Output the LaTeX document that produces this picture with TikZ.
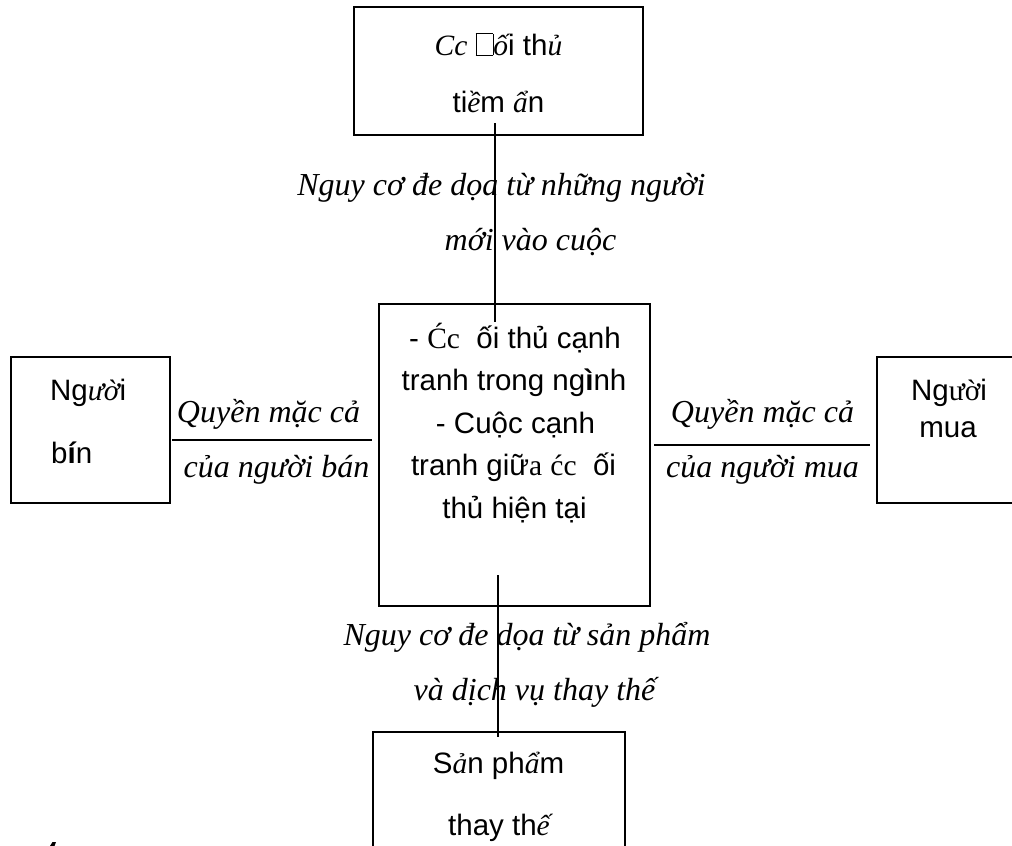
\documentclass[tikz,border=0pt]{standalone}
\usepackage{fontspec}
\setmainfont{Liberation Sans}
\newfontfamily\tmsfont{Liberation Serif}
\newcommand\srfi[1]{{\tmsfont\itshape #1}}
\newcommand\srfr[1]{{\tmsfont #1}}
% empty glyph box
\newcommand\nobox{{\fboxsep0pt\fboxrule0.9pt\fbox{\rule{0pt}{21pt}\hspace{16pt}}}}
\begin{document}
\begin{tikzpicture}[x=1pt,y=-1pt,
  box/.style={draw, line width=1.8pt, rectangle, inner sep=0pt},
  link/.style={line width=1.8pt},
  sans/.style={inner sep=0pt, anchor=base, font=\fontsize{29.5}{36}\selectfont},
  lbl/.style={inner sep=0pt, anchor=base, font=\fontsize{32}{38}\selectfont\tmsfont\itshape}]
\useasboundingbox (0,0) rectangle (1012,846);

% boxes
\node[box, minimum width=289, minimum height=128] (top) at (498.5,71) {};
\node[box, minimum width=271, minimum height=302] (mid) at (514.5,455) {};
\node[box, minimum width=159, minimum height=146] (seller) at (90.5,430) {};
\node[box, minimum width=153, minimum height=146] (buyer) at (953.5,430) {};
\node[box, minimum width=252, minimum height=138] (subst) at (499,801) {};

% box texts
\node[sans] (top1) at (498.5,55) {\srfi{Cc} \nobox\srfi{ố}i th\srfi{ủ}};
\node[sans] (top2) at (498.5,112) {ti\srfi{ề}m \srfi{ẩ}n};

\node[sans] (mid1) at (515,348) {- \srfr{Ćc}\ \ ối thủ cạnh};
\node[sans] (mid2) at (514,390) {tranh trong ng{\bfseries ì}nh};
\node[sans] (mid3) at (515.5,433) {- Cuộc cạnh};
\node[sans] (mid4) at (513.5,475) {tranh giữ\srfr{a} \srfr{ćc}\ \ ối};
\node[sans] (mid5) at (514.5,518) {thủ hiện tại};

\node[sans, anchor=base west] (sel1) at (50,400) {Ng\srfi{ườ}i};
\node[sans, anchor=base west] (sel2) at (51,463) {b{\bfseries í}n};

\node[sans] (buy1) at (949,400) {Ng\srfr{ườ}i};
\node[sans] (buy2) at (948,437) {mua};

\node[sans] (sub1) at (498.5,773) {S\srfi{ả}n ph\srfi{ẩ}m};
\node[sans] (sub2) at (499,835) {thay th\srfi{ế}};

% connector labels
\node[lbl] (nt1) at (501.5,195) {Nguy cơ đe dọa từ những người};
\node[lbl] (nt2) at (530.5,250) {mới vào cuộc};
\node[lbl] (ls1) at (268.5,422) {Quyền mặc cả};
\node[lbl] (ls2) at (276.5,477) {của người bán};
\node[lbl] (rs1) at (762.5,422) {Quyền mặc cả};
\node[lbl] (rs2) at (762.5,477) {của người mua};
\node[lbl] (ns1) at (527,645) {Nguy cơ đe dọa từ sản phẩm};
\node[lbl] (ns2) at (534.5,700) {và dịch vụ thay thế};

% connectors
\coordinate (ta) at (495,123);
\coordinate (tb) at (495,322);
\coordinate (ba) at (498,575);
\coordinate (bb) at (498,737);
\coordinate (la) at (172,440);
\coordinate (lb) at (372,440);
\coordinate (ra) at (654,445);
\coordinate (rb) at (870,445);
\draw[link] (ta) -- (tb);
\draw[link] (ba) -- (bb);
\draw[link] (la) -- (lb);
\draw[link] (ra) -- (rb);

% stray glyph fragment at the lower edge
\fill (50,846) -- (52.5,842) -- (56,842) -- (54.5,846) -- cycle;
\end{tikzpicture}
\end{document}
